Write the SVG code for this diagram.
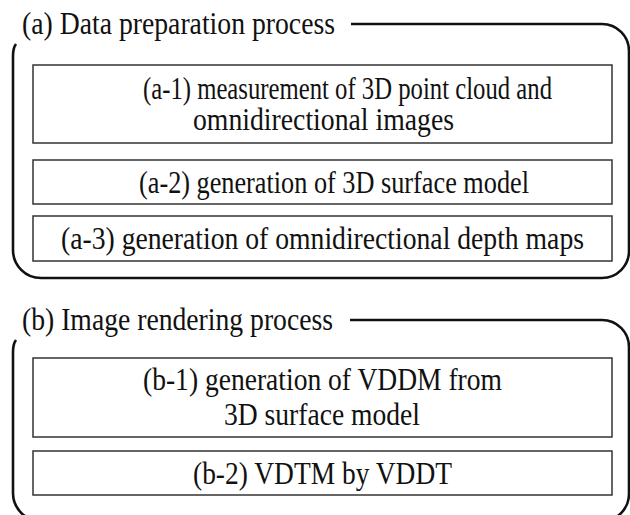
<svg xmlns="http://www.w3.org/2000/svg" width="630" height="515" viewBox="0 0 630 515">
<style>
.grp{fill:none;stroke:#111;stroke-width:2.6}
.box{fill:#fff;stroke:#333;stroke-width:1.5}
text{font-family:'Liberation Serif','Times New Roman',Times,'DejaVu Serif',serif;font-size:28px;fill:#111}
</style>
<rect width="630" height="515" fill="#fff"/>
<g id="group-a">
<path class="grp" d="M351,24 H602 A27,27 0 0 1 629,51 V251 A27,27 0 0 1 602,278 H41 A28,28 0 0 1 13,250 V56 Q13,48 16,44"/>
<text transform="translate(0,34) scale(1,1.1)" x="22" y="0" textLength="313" lengthAdjust="spacingAndGlyphs">(a) Data preparation process</text>
</g>
<g id="a1">
<rect class="box" x="33" y="65" width="579" height="78"/>
<text transform="translate(0,99) scale(1,1.1)" x="143" y="0" textLength="409" lengthAdjust="spacingAndGlyphs">(a-1) measurement of 3D point cloud and</text>
<text transform="translate(0,130) scale(1,1.1)" x="193" y="0" textLength="261" lengthAdjust="spacingAndGlyphs">omnidirectional images</text>
</g>
<g id="a2">
<rect class="box" x="33" y="160" width="579" height="44"/>
<text transform="translate(0,193) scale(1,1.1)" x="139" y="0" textLength="390" lengthAdjust="spacingAndGlyphs">(a-2) generation of 3D surface model</text>
</g>
<g id="a3">
<rect class="box" x="33" y="216" width="579" height="45"/>
<text transform="translate(0,249) scale(1,1.1)" x="61" y="0" textLength="523" lengthAdjust="spacingAndGlyphs">(a-3) generation of omnidirectional depth maps</text>
</g>
<g id="group-b">
<path class="grp" d="M350,320 H602 A27,27 0 0 1 629,347 V494 A27,27 0 0 1 602,521 H41 A28,28 0 0 1 13,493 V352 Q13,344 16,340"/>
<text transform="translate(0,330) scale(1,1.1)" x="22" y="0" textLength="311" lengthAdjust="spacingAndGlyphs">(b) Image rendering process</text>
</g>
<g id="b1">
<rect class="box" x="33" y="358" width="579" height="79"/>
<text transform="translate(0,390) scale(1,1.1)" x="143" y="0" textLength="359" lengthAdjust="spacingAndGlyphs">(b-1) generation of VDDM from</text>
<text transform="translate(0,425) scale(1,1.1)" x="224" y="0" textLength="196" lengthAdjust="spacingAndGlyphs">3D surface model</text>
</g>
<g id="b2">
<rect class="box" x="33" y="451" width="579" height="44"/>
<text transform="translate(0,484) scale(1,1.1)" x="193" y="0" textLength="259" lengthAdjust="spacingAndGlyphs">(b-2) VDTM by VDDT</text>
</g>
<g id="connectors"></g>
</svg>
